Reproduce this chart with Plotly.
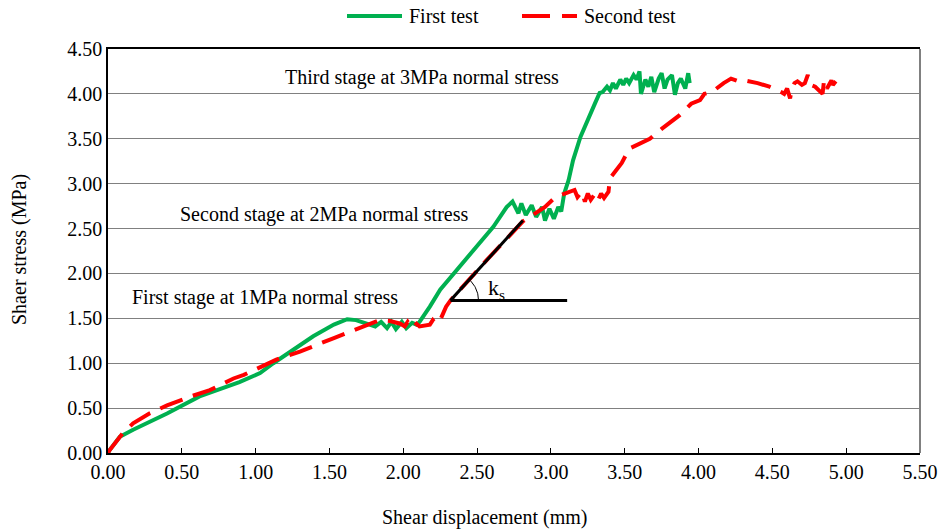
import plotly.graph_objects as go
import numpy as np

# First test (green, solid)
first_x = [0.00, 0.01, 0.08, 0.17, 0.40, 0.62, 0.89, 1.03, 1.12, 1.25, 1.39, 1.53, 1.62, 1.68, 1.75,
           1.77, 1.81, 1.85, 1.89, 1.92, 1.95, 1.99, 2.02, 2.06, 2.09, 2.11, 2.18, 2.25, 2.38, 2.52, 2.61,
           2.70, 2.74, 2.78, 2.80, 2.83, 2.87, 2.90, 2.94, 2.96, 2.99, 3.02, 3.05, 3.07, 3.09, 3.12,
           3.15, 3.20, 3.26, 3.30, 3.33,
           3.35, 3.38, 3.40, 3.42, 3.44, 3.47, 3.49, 3.51, 3.53, 3.56, 3.58, 3.60, 3.61, 3.64, 3.66,
           3.68, 3.70, 3.73, 3.75, 3.77, 3.79, 3.82, 3.84, 3.86, 3.88, 3.91, 3.93, 3.94]
first_y = [0.00, 0.03, 0.18, 0.26, 0.44, 0.63, 0.79, 0.89, 1.00, 1.15, 1.30, 1.43, 1.49, 1.48, 1.44,
           1.44, 1.41, 1.46, 1.39, 1.46, 1.38, 1.46, 1.39, 1.45, 1.43, 1.46, 1.63, 1.82, 2.07, 2.33, 2.52,
           2.74, 2.80, 2.67, 2.78, 2.65, 2.76, 2.63, 2.74, 2.59, 2.72, 2.61, 2.74, 2.69, 2.89, 3.04,
           3.26, 3.52, 3.76, 3.90, 4.01,
           4.02, 4.08, 4.04, 4.12, 4.06, 4.16, 4.10, 4.17, 4.12, 4.21, 4.16, 4.25, 4.00, 4.16, 4.08,
           4.19, 4.02, 4.17, 4.23, 4.06, 4.16, 4.21, 3.99, 4.12, 4.17, 4.06, 4.23, 4.12]

# Second test (red, dashed)
second_x = [0.00, 0.01, 0.10, 0.17, 0.28, 0.40, 0.56, 0.69, 0.85, 0.92, 1.14, 1.30, 1.53, 1.71, 1.84, 1.91,
            1.98, 2.01, 2.03, 2.06, 2.09, 2.11, 2.18, 2.20, 2.22, 2.25, 2.29, 2.32, 2.56, 2.81, 2.96,
            3.03, 3.13, 3.16, 3.18, 3.21, 3.23, 3.25, 3.27, 3.30, 3.32, 3.34, 3.36, 3.39,
            3.40, 3.48, 3.53, 3.67, 3.75, 3.87, 3.95, 4.01, 4.04, 4.09, 4.17, 4.22, 4.27, 4.31,
            4.40, 4.48, 4.56, 4.58, 4.60, 4.62, 4.63, 4.65, 4.67, 4.70, 4.72, 4.74, 4.76, 4.79,
            4.84, 4.85, 4.87, 4.90, 4.91, 4.93]
second_y = [0.00, 0.03, 0.22, 0.33, 0.44, 0.53, 0.63, 0.70, 0.83, 0.87, 1.04, 1.13, 1.28, 1.39, 1.48, 1.47,
            1.44, 1.41, 1.46, 1.39, 1.44, 1.41, 1.43, 1.48, 1.44, 1.48, 1.63, 1.70, 2.14, 2.58, 2.74,
            2.85, 2.91, 2.93, 2.85, 2.91, 2.80, 2.89, 2.82, 2.89, 2.82, 2.89, 2.84, 2.91,
            3.06, 3.23, 3.39, 3.50, 3.61, 3.76, 3.89, 3.93, 4.00, 4.02, 4.12, 4.17, 4.14, 4.15,
            4.12, 4.08, 4.02, 4.00, 4.06, 3.95, 4.04, 4.12, 4.14, 4.10, 4.12, 4.21, 4.10, 4.08,
            4.00, 4.15, 4.06, 4.15, 4.10, 4.14]

# Stiffness (ks) construction lines
ks_origin = (2.32, 1.70)
ks_horizontal_end = 3.11
ks_slope_end = (2.81, 2.59)

tick_vals_x = [0.0, 0.5, 1.0, 1.5, 2.0, 2.5, 3.0, 3.5, 4.0, 4.5, 5.0, 5.5]
tick_vals_y = [0.0, 0.5, 1.0, 1.5, 2.0, 2.5, 3.0, 3.5, 4.0, 4.5]

FONT = "Liberation Serif"
GREEN = "#00B050"
RED = "#FF0000"

L, R, T, B = 108, 18, 49, 76
W, H = 938, 529
PW = W - L - R
PH = H - T - B

fig = go.Figure()

fig.add_trace(go.Scatter(x=first_x, y=first_y, mode="lines", name="First test",
                         line=dict(color=GREEN, width=4), showlegend=False))
fig.add_trace(go.Scatter(x=second_x, y=second_y, mode="lines", name="Second test",
                         line=dict(color=RED, width=4, dash="24px,11px"), showlegend=False))

# ks lines
fig.add_trace(go.Scatter(x=[ks_origin[0], ks_horizontal_end], y=[ks_origin[1], ks_origin[1]],
                         mode="lines", line=dict(color="black", width=3), showlegend=False))
fig.add_trace(go.Scatter(x=[ks_origin[0], ks_slope_end[0]], y=[ks_origin[1], ks_slope_end[1]],
                         mode="lines", line=dict(color="black", width=3), showlegend=False))

# arc (pixel-scaled)
px_per_x = PW / 5.5
px_per_y = PH / 4.5
ang_end = np.arctan2((ks_slope_end[1] - ks_origin[1]) * px_per_y, (ks_slope_end[0] - ks_origin[0]) * px_per_x)
t = np.linspace(0, ang_end, 30)
r = 28
fig.add_trace(go.Scatter(x=ks_origin[0] + r * np.cos(t) / px_per_x, y=ks_origin[1] + r * np.sin(t) / px_per_y,
                         mode="lines", line=dict(color="black", width=1), showlegend=False))

ann_font = dict(family=FONT, size=20, color="black")
annotations = [
    dict(x=2.126, y=4.187, text="Third stage at 3MPa normal stress"),
    dict(x=1.462, y=2.66, text="Second stage at 2MPa normal stress"),
    dict(x=1.063, y=1.737, text="First stage at 1MPa normal stress"),
    dict(x=2.63, y=1.83, text="k<sub>s</sub>", font=dict(family=FONT, size=22, color="black")),
]
for a in annotations:
    a.setdefault("font", ann_font)
    fig.add_annotation(xref="x", yref="y", showarrow=False, xanchor="center", yanchor="middle", **a)


def pxp(xp):
    return (xp - L) / PW


def pyp(yp):
    return (T + PH - yp) / PH


# axis titles as paper annotations
fig.add_annotation(xref="paper", yref="paper", x=pxp(485), y=pyp(517), xanchor="center", yanchor="middle",
                   text="Shear displacement (mm)", showarrow=False, font=ann_font)
fig.add_annotation(xref="paper", yref="paper", x=pxp(19), y=pyp(250), xanchor="center", yanchor="middle",
                   text="Shaer stress (MPa)", showarrow=False, textangle=-90, font=ann_font)

# Custom legend
ly = pyp(16)
shapes = [
    dict(type="line", xref="paper", yref="paper", x0=pxp(347), x1=pxp(402), y0=ly, y1=ly,
         line=dict(color=GREEN, width=4)),
    dict(type="line", xref="paper", yref="paper", x0=pxp(522), x1=pxp(550), y0=ly, y1=ly,
         line=dict(color=RED, width=4)),
    dict(type="line", xref="paper", yref="paper", x0=pxp(562), x1=pxp(577), y0=ly, y1=ly,
         line=dict(color=RED, width=4)),
    # right border (gray)
    dict(type="line", xref="paper", yref="paper", x0=1, x1=1, y0=0, y1=1,
         line=dict(color="#808080", width=2)),
]
fig.add_annotation(xref="paper", yref="paper", x=pxp(407), y=ly, xanchor="left", yanchor="middle",
                   text="First test", showarrow=False, font=ann_font)
fig.add_annotation(xref="paper", yref="paper", x=pxp(582), y=ly, xanchor="left", yanchor="middle",
                   text="Second test", showarrow=False, font=ann_font)

fig.update_layout(
    width=W, height=H,
    margin=dict(l=L, r=R, t=T, b=B),
    paper_bgcolor="white", plot_bgcolor="white",
    font=dict(family=FONT, size=20, color="black"),
    shapes=shapes,
    xaxis=dict(range=[0, 5.5], tickvals=tick_vals_x, tickformat=".2f", showgrid=False,
               showline=True, linecolor="black", linewidth=1.5, mirror=True,
               ticks="inside", ticklen=5, tickcolor="black", zeroline=False, automargin=False,
               tickfont=dict(family=FONT, size=20, color="black")),
    yaxis=dict(range=[0, 4.5], tickvals=tick_vals_y, tickformat=".2f", showgrid=True,
               gridcolor="#808080", gridwidth=1.3,
               showline=True, linecolor="black", linewidth=1.5, automargin=False,
               ticks="", zeroline=False,
               tickfont=dict(family=FONT, size=20, color="black")),
)

fig.write_html("out.html")
